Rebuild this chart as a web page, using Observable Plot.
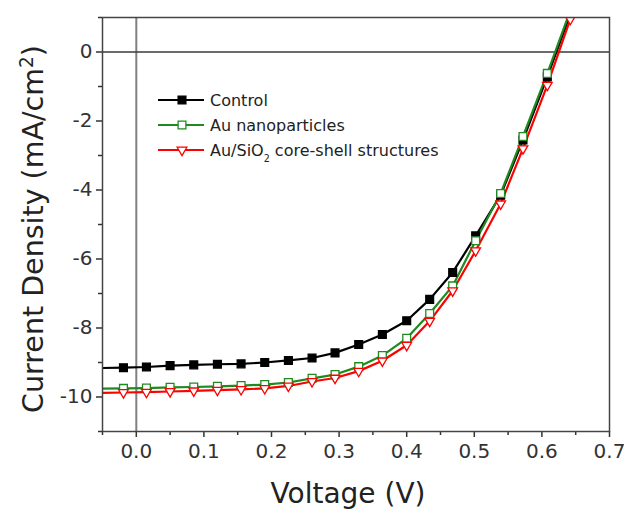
<!DOCTYPE html>
<html>
<head>
<meta charset="utf-8">
<script src="https://cdn.jsdelivr.net/npm/d3@7"></script>
<script src="https://cdn.jsdelivr.net/npm/@observablehq/plot@0.6"></script>
<style>
  html, body { margin: 0; padding: 0; background: #fff; }
  #chart svg { display: block; }
</style>
</head>
<body>
<div id="chart"></div>
<script>
// ---- data ----
const voltage = [-0.05, -0.019, 0.015, 0.05, 0.085, 0.12, 0.155, 0.19, 0.225, 0.26, 0.294, 0.329, 0.364, 0.40, 0.434, 0.468, 0.502, 0.539, 0.572, 0.608, 0.642];
const control = [-9.16, -9.15, -9.13, -9.09, -9.07, -9.05, -9.04, -9.00, -8.94, -8.87, -8.72, -8.48, -8.19, -7.79, -7.17, -6.39, -5.33, -4.15, -2.55, -0.72, 1.10];
const auNanoparticles = [-9.76, -9.75, -9.74, -9.72, -9.71, -9.69, -9.67, -9.64, -9.58, -9.46, -9.35, -9.12, -8.80, -8.30, -7.58, -6.78, -5.47, -4.10, -2.45, -0.62, 1.20];
const auSiO2 = [-9.88, -9.87, -9.86, -9.84, -9.82, -9.80, -9.78, -9.75, -9.68, -9.55, -9.45, -9.25, -8.95, -8.50, -7.80, -6.92, -5.76, -4.40, -2.80, -0.96, 0.95];
const seriesNames = ["Control", "Au nanoparticles", "Au/SiO₂ core-shell structures"];
const xTicks = [0.0, 0.1, 0.2, 0.3, 0.4, 0.5, 0.6, 0.7];
const xMinorTicks = [-0.05, 0.05, 0.15, 0.25, 0.35, 0.45, 0.55, 0.65];
const yTicks = [-10, -8, -6, -4, -2, 0];
const yMinorTicks = [-11, -9, -7, -5, -3, -1, 1];
const xLabel = "Voltage (V)";
const yLabel = "Current Density (mA/cm";

// ---- styles ----
const colors = ["#000000", "#1f8a1f", "#ff0000"];
const fills = ["#000000", "#ffffff", "#ffffff"];
const symbols = ["square", "square", "triangle"];
const rotations = [0, 0, 180];
const radii = [4.4, 4.4, 3.6];

const valuesList = [control, auNanoparticles, auSiO2];
const rows = valuesList.flatMap((vals, s) => vals.map((v, i) => ({
  x: voltage[i], y: v, s, i
})));

const font = "DejaVu Sans";

const marks = [
  Plot.ruleX([0], {stroke: "#808080", strokeWidth: 2}),
  Plot.ruleY([0], {stroke: "#3a3a3a", strokeWidth: 1.6}),
  Plot.axisX({ticks: xTicks, tickSize: 6, tickPadding: 6, tickFormat: d => d.toFixed(1), label: null, stroke: "#333", strokeWidth: 1.5, fill: "#333"}),
  Plot.axisX({ticks: xMinorTicks, tickSize: 4, text: null, label: null, stroke: "#333", strokeWidth: 1.5}),
  Plot.axisY({ticks: yTicks, tickSize: 6, tickPadding: 4, tickFormat: d => String(d), label: null, stroke: "#333", strokeWidth: 1.5, fill: "#333"}),
  Plot.axisY({ticks: yMinorTicks, tickSize: 4, text: null, label: null, stroke: "#333", strokeWidth: 1.5})
];
for (let s = 0; s < 3; s++) {
  const d = rows.filter(r => r.s === s);
  marks.push(Plot.line(d, {x: "x", y: "y", stroke: colors[s], strokeWidth: 2.2, clip: true, curve: "linear"}));
}
for (let s = 0; s < 3; s++) {
  const d = rows.filter(r => r.s === s && r.i > 0 && r.y < 1);
  marks.push(Plot.dot(d, {x: "x", y: "y", symbol: symbols[s], r: radii[s], rotate: rotations[s], stroke: colors[s], fill: fills[s], strokeWidth: 1.3, clip: true}));
}
marks.push(Plot.frame({stroke: "#444", strokeWidth: 1.5}));

const chart = Plot.plot({
  width: 624,
  height: 510,
  marginLeft: 102,
  marginRight: 15,
  marginTop: 17,
  marginBottom: 79,
  x: {domain: [-0.05, 0.7]},
  y: {domain: [-11, 1]},
  style: {fontFamily: font, fontSize: "20px", color: "#333", background: "#fff"},
  marks
});

const svg = d3.select(chart);
// axis titles
svg.append("text")
  .attr("x", 348).attr("y", 503)
  .attr("text-anchor", "middle")
  .attr("font-family", font).attr("font-size", 28).attr("fill", "#222")
  .text(xLabel);
const yl = svg.append("text")
  .attr("transform", "translate(43,229) rotate(-90)")
  .attr("text-anchor", "middle")
  .attr("font-family", font).attr("font-size", 28.5).attr("fill", "#222");
yl.append("tspan").text(yLabel);
yl.append("tspan").attr("baseline-shift", "super").attr("font-size", "65%").text("2");
yl.append("tspan").text(")");

// legend
const legendX0 = 158, legendX1 = 204, legendMarkX = 182, legendTextX = 210;
const legendY = [100, 125, 150];
const symGen = [d3.symbol(d3.symbolSquare, Math.PI * radii[0] ** 2), d3.symbol(d3.symbolSquare, Math.PI * radii[1] ** 2), d3.symbol(d3.symbolTriangle, Math.PI * radii[2] ** 2)];
const lg = svg.append("g").attr("font-family", font).attr("font-size", 16).attr("fill", "#222").attr("text-anchor", "start");
seriesNames.forEach((name, s) => {
  const y = legendY[s];
  lg.append("line").attr("x1", legendX0).attr("x2", legendX1).attr("y1", y).attr("y2", y)
    .attr("stroke", colors[s]).attr("stroke-width", 2.2);
  lg.append("path").attr("d", symGen[s]())
    .attr("transform", `translate(${legendMarkX},${y}) rotate(${rotations[s]})`)
    .attr("stroke", colors[s]).attr("fill", fills[s]).attr("stroke-width", 1.3);
  const t = lg.append("text").attr("x", legendTextX).attr("y", y).attr("dy", "0.36em").attr("text-anchor", "start");
  if (name.includes("₂")) {
    const [a, b] = name.split("₂");
    t.append("tspan").text(a);
    t.append("tspan").attr("font-size", "60%").attr("baseline-shift", "sub").text("2");
    t.append("tspan").text(b);
  } else {
    t.text(name);
  }
});

document.getElementById("chart").appendChild(chart);
</script>
</body>
</html>
